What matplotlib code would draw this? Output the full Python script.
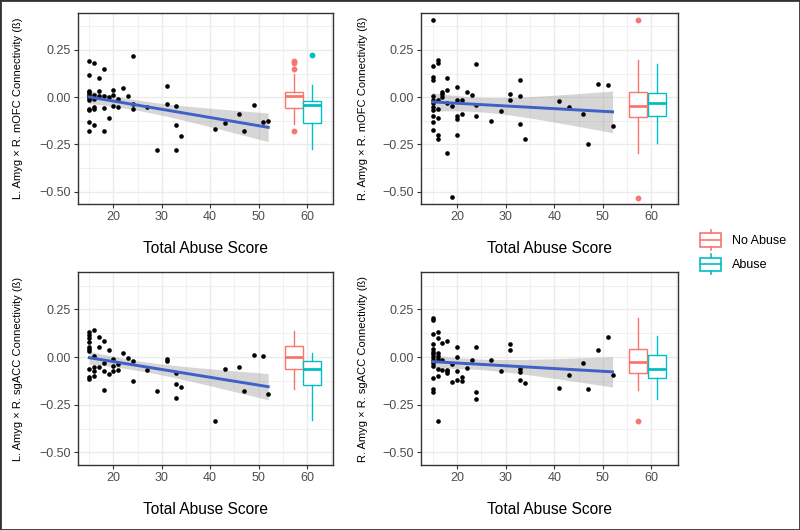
import numpy as np
import matplotlib
matplotlib.use("Agg")
import matplotlib.pyplot as plt
from matplotlib.patches import Rectangle
from matplotlib.lines import Line2D
from matplotlib.legend_handler import HandlerBase
from matplotlib.ticker import MultipleLocator

plt.rcParams['font.family'] = ['Liberation Sans', 'DejaVu Sans']

# ---------------- data ----------------
tl_x = [15]*12 + [16]*6 + [17]*3 + [18]*4 + [19]*2 + [20]*3 + [21]*2 + [22, 23] + [24]*3 + [27, 29, 31, 31, 33, 33, 33, 34, 41, 43, 46, 47, 49, 51, 52]
tl_y = [0.19, 0.12, 0.035, 0.025, 0.015, 0.005, -0.005, -0.015, -0.065, -0.07, -0.13, -0.18,
        0.18, 0.01, -0.01, -0.05, -0.065, -0.145,
        0.10, 0.035, 0.005,
        0.15, 0.005, -0.055, -0.18,
        0.0, -0.11,
        0.04, 0.01, -0.045,
        -0.01, -0.05,
        0.05, 0.005,
        0.22, -0.035, -0.06,
        -0.05, -0.28, 0.06, -0.035, -0.045, -0.145, -0.28, -0.205, -0.17, -0.135, -0.09, -0.18, -0.04, -0.13, -0.125]

tr_x = [15]*12 + [16]*7 + [17]*3 + [18]*4 + [19]*2 + [20]*5 + [21]*2 + [22, 23] + [24]*3 + [27, 29, 31, 31, 33, 33, 33, 34, 41, 43, 46, 47, 49, 51, 52]
tr_y = [0.41, 0.165, 0.105, 0.09, 0.004, -0.013, -0.03, -0.05, -0.067, -0.10, -0.132, -0.174,
        0.195, 0.181, -0.015, -0.065, -0.11, -0.20, -0.22,
        0.03, 0.018, 0.0,
        0.10, 0.037, -0.03, -0.297,
        -0.047, -0.53,
        0.052, -0.015, -0.10, -0.113, -0.20,
        -0.015, -0.091,
        0.03, 0.013,
        0.175, -0.044, -0.098,
        -0.128, -0.074, 0.016, -0.016, 0.09, 0.004, -0.143, -0.22, -0.018, -0.053, -0.089, -0.246, 0.071, 0.062, -0.152]

bl_x = [15]*10 + [16]*5 + [17]*3 + [18]*4 + [19]*2 + [20]*3 + [21]*2 + [22, 23] + [24]*2 + [27, 29, 31, 31, 33, 33, 33, 34, 41, 43, 46, 47, 49, 51, 52]
bl_y = [0.134, 0.116, 0.098, 0.077, 0.054, 0.04, 0.03, -0.063, -0.104, -0.116,
        0.143, 0.004, -0.054, -0.075, -0.098,
        0.104, 0.054, -0.05,
        0.084, -0.032, -0.071, -0.171,
        0.036, -0.089,
        -0.009, -0.045, -0.071,
        -0.039, -0.066,
        0.021, -0.004,
        -0.023, -0.127,
        -0.068, -0.179, -0.011, -0.023, -0.082, -0.143, -0.214, -0.157, -0.334, -0.061, -0.054, -0.179, 0.009, 0.005, -0.196]

br_x = [15]*14 + [16]*8 + [17]*3 + [18]*4 + [19]*2 + [20]*4 + [21]*2 + [22, 23] + [24]*3 + [27, 29, 31, 31, 33, 33, 33, 34, 41, 43, 46, 47, 49, 51, 52]
br_y = [0.204, 0.196, 0.123, 0.07, 0.043, 0.027, 0.014, 0.0, -0.018, -0.03, -0.048, -0.112, -0.17, -0.182,
        0.134, 0.10, 0.021, 0.004, -0.011, -0.061, -0.098, -0.336,
        0.073, -0.016, -0.068,
        0.084, -0.066, -0.075, -0.086,
        -0.036, -0.129,
        0.052, 0.0, -0.071, -0.12,
        -0.107, -0.125,
        -0.055, -0.016,
        0.052, -0.184, -0.221,
        -0.016, -0.073, 0.066, 0.039, -0.063, -0.080, -0.121, -0.134, -0.163, -0.095, -0.03, -0.17, 0.036, 0.107, -0.095]

# box stats: [whislo, q1, med, q3, whishi]
tl_noabuse = [-0.14, -0.056, 0.005, 0.027, 0.121]; tl_noabuse_out = [0.19, 0.181, 0.147, -0.181]
tl_abuse = [-0.277, -0.136, -0.043, -0.02, 0.062];  tl_abuse_out = [0.223]
tr_noabuse = [-0.297, -0.107, -0.045, 0.029, 0.196]; tr_noabuse_out = [0.408, -0.533]
tr_abuse = [-0.245, -0.098, -0.031, 0.02, 0.174];   tr_abuse_out = []
bl_noabuse = [-0.168, -0.063, 0.0, 0.057, 0.139];   bl_noabuse_out = []
bl_abuse = [-0.33, -0.145, -0.064, -0.02, 0.021];   bl_abuse_out = []
br_noabuse = [-0.175, -0.084, -0.025, 0.043, 0.205]; br_noabuse_out = [-0.336]
br_abuse = [-0.218, -0.109, -0.061, 0.0125, 0.111]; br_abuse_out = []

groups = ["No Abuse", "Abuse"]
group_colors = ["#F8766D", "#00BFC4"]
box_pos = [57.3, 61.1]
box_width = 3.75

ylabels = ["L. Amyg \u00d7 R. mOFC Connectivity (\u00df)",
           "R. Amyg \u00d7 R. mOFC Connectivity (\u00df)",
           "L. Amyg \u00d7 R. sgACC Connectivity (\u00df)",
           "R. Amyg \u00d7 R. sgACC Connectivity (\u00df)"]
xlabel = "Total Abuse Score"
x_ticks = [20, 30, 40, 50, 60]
y_ticks = [-0.50, -0.25, 0.00, 0.25]
y_ticklabels = ["\u22120.50", "\u22120.25", "0.00", "0.25"]

# ---------------- drawing ----------------
W, H = 800, 530
fig = plt.figure(figsize=(W/100, H/100), dpi=100)

def frac(l, t, r, b):
    return [l/W, 1 - b/H, (r-l)/W, (b-t)/H]

rects = [frac(77.7, 13, 333, 204), frac(421, 13, 677.7, 204),
         frac(77.7, 272, 333, 465), frac(421, 272, 677.7, 465)]
label_x = [-0.215, -0.207, -0.215, -0.207]

panels = [(tl_x, tl_y, tl_noabuse, tl_noabuse_out, tl_abuse, tl_abuse_out),
          (tr_x, tr_y, tr_noabuse, tr_noabuse_out, tr_abuse, tr_abuse_out),
          (bl_x, bl_y, bl_noabuse, bl_noabuse_out, bl_abuse, bl_abuse_out),
          (br_x, br_y, br_noabuse, br_noabuse_out, br_abuse, br_abuse_out)]

grid_c = "#EBEBEB"
dark = "#333333"
txt = "#4D4D4D"

for i, (px, py, s1, o1, s2, o2) in enumerate(panels):
    ax = fig.add_axes(rects[i])
    ax.set_xlim(12.6, 65.4)
    ax.set_ylim(-0.566, 0.446)
    ax.set_xticks(x_ticks)
    ax.set_yticks(y_ticks)
    ax.set_yticklabels(y_ticklabels)
    ax.xaxis.set_minor_locator(MultipleLocator(5))
    ax.yaxis.set_minor_locator(MultipleLocator(0.125))
    ax.grid(True, which='major', color=grid_c, lw=1.0, zorder=0)
    ax.grid(True, which='minor', color=grid_c, lw=0.5, zorder=0)
    ax.set_axisbelow(True)
    for sp in ax.spines.values():
        sp.set_color(dark)
        sp.set_linewidth(1.0)
    ax.tick_params(which='major', length=2.75, width=0.8, color=dark, pad=2.2,
                   labelsize=9, labelcolor=txt)
    ax.tick_params(which='minor', length=0)

    x = np.asarray(px, float)
    y = np.asarray(py, float)
    # linear fit with 95% CI
    b, a = np.polyfit(x, y, 1)
    n = len(x)
    resid = y - (a + b*x)
    s = np.sqrt(np.sum(resid**2)/(n-2))
    xs = np.linspace(x.min(), x.max(), 100)
    ys = a + b*xs
    se = s*np.sqrt(1.0/n + (xs - x.mean())**2/np.sum((x - x.mean())**2))
    tcrit = 2.0
    ax.fill_between(xs, ys - tcrit*se, ys + tcrit*se, color="#999999", alpha=0.4, lw=0, zorder=2)
    ax.scatter(x, y, s=11, color="black", lw=0, zorder=3)
    ax.plot(xs, ys, color="#3F60C4", lw=2.1, zorder=4)

    stats = []
    for st, outl, lab in [(s1, o1, groups[0]), (s2, o2, groups[1])]:
        stats.append(dict(whislo=st[0], q1=st[1], med=st[2], q3=st[3], whishi=st[4],
                          fliers=outl, label=lab))
    for k in range(2):
        c = group_colors[k]
        ax.bxp([stats[k]], positions=[box_pos[k]], widths=box_width, showcaps=False,
               patch_artist=True, manage_ticks=False,
               boxprops=dict(facecolor="white", edgecolor=c, lw=1.0),
               whiskerprops=dict(color=c, lw=1.0),
               medianprops=dict(color=c, lw=2.0),
               flierprops=dict(marker='o', markerfacecolor=c, markeredgecolor='none', markersize=4.2),
               zorder=3)

    ax.set_xlabel(xlabel, fontsize=11.2, color="black", labelpad=13)
    ax.set_ylabel(ylabels[i], fontsize=8, color="black")
    ax.yaxis.set_label_coords(label_x[i], 0.5)


class BoxHandler(HandlerBase):
    def create_artists(self, legend, orig_handle, xdescent, ydescent, width, height, fontsize, trans):
        c = orig_handle.get_edgecolor()
        x0, y0 = -xdescent, -ydescent
        cx = x0 + width/2
        lo, hi = y0 + 0.17*height, y0 + 0.83*height
        rect = Rectangle((x0, lo), width, hi - lo, facecolor="white", edgecolor=c, lw=1.2, transform=trans)
        med = Line2D([x0, x0 + width], [y0 + 0.5*height]*2, color=c, lw=1.2, transform=trans)
        w1 = Line2D([cx, cx], [y0, lo], color=c, lw=1.2, transform=trans)
        w2 = Line2D([cx, cx], [hi, y0 + height], color=c, lw=1.2, transform=trans)
        return [rect, med, w1, w2]


handles = [Rectangle((0, 0), 1, 1, facecolor="white", edgecolor=c) for c in group_colors]
fig.legend(handles, groups, handler_map={Rectangle: BoxHandler()},
           loc='upper left', bbox_to_anchor=(700/W, 1 - 230/H), frameon=False,
           borderpad=0, borderaxespad=0, handlelength=1.7, handleheight=2.1,
           handletextpad=0.85, labelspacing=0.32, fontsize=9)

fig.add_artist(Rectangle((0, 0), 1, 1, transform=fig.transFigure, fill=False,
                         edgecolor=dark, lw=2.0))

fig.savefig("out.png", dpi=100)
